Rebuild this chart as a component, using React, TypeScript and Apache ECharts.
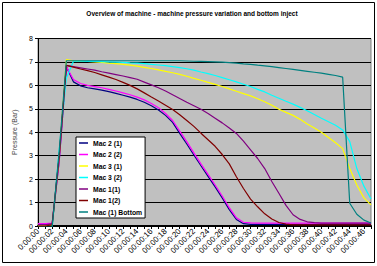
import React, { useEffect, useRef } from "react";
import * as echarts from "echarts";

const titleText = "Overview of machine - machine pressure variation and bottom inject";
const yAxisName = "Pressure (Bar)";

const seconds = Array.from({ length: 48 }, (_, i) => i);
const categories = seconds.map((s) => (s === 0 ? "0:00:00" : "00:00:" + String(s).padStart(2, "0")));

const seriesNames = ["Mac 2 (1)", "Mac 2 (2)", "Mac 3 (1)", "Mac 3 (2)", "Mac 1(1)", "Mac 1(2)", "Mac (1) Bottom"];
const seriesColors = ["#000080", "#FF00FF", "#FFFF00", "#00FFFF", "#800080", "#800000", "#008080"];

const mac21 = [0.05, 0.05, 0.08, 2.8, 6.8, 6.15, 5.98, 5.9, 5.85, 5.8, 5.73, 5.66, 5.58, 5.5, 5.4, 5.28, 5.13, 4.95, 4.72, 4.42, 3.95, 3.5, 3.03, 2.57, 2.12, 1.67, 1.2, 0.7, 0.28, 0.1, 0.07, 0.07, 0.07, 0.07, 0.07, 0.07, 0.07, 0.07, 0.07, 0.07, 0.07, 0.07, 0.07, 0.07, 0.07, 0.07, 0.07, 0.07];
const mac22 = [0.1, 0.1, 0.12, 2.8, 6.8, 6.25, 6.08, 6.0, 5.95, 5.9, 5.83, 5.76, 5.68, 5.6, 5.5, 5.38, 5.23, 5.05, 4.8, 4.5, 4.05, 3.6, 3.12, 2.65, 2.2, 1.75, 1.28, 0.78, 0.35, 0.16, 0.13, 0.12, 0.12, 0.12, 0.12, 0.12, 0.12, 0.12, 0.12, 0.12, 0.12, 0.12, 0.12, 0.12, 0.12, 0.12, 0.12, 0.12];
const mac31 = [0.02, 0.02, 0.05, 3.0, 7.1, 7.05, 7.03, 7.02, 7.0, 6.98, 6.95, 6.93, 6.9, 6.86, 6.82, 6.77, 6.72, 6.66, 6.6, 6.54, 6.47, 6.39, 6.3, 6.22, 6.13, 6.04, 5.95, 5.85, 5.75, 5.65, 5.55, 5.43, 5.3, 5.15, 4.98, 4.85, 4.72, 4.55, 4.35, 4.18, 4.0, 3.78, 3.55, 3.3, 2.45, 1.75, 1.2, 0.9];
const mac32 = [-0.1, -0.1, -0.08, 3.3, 6.3, 7.03, 7.03, 7.02, 7.02, 7.01, 7.0, 6.99, 6.98, 6.96, 6.95, 6.93, 6.9, 6.87, 6.84, 6.8, 6.76, 6.71, 6.65, 6.57, 6.5, 6.42, 6.33, 6.24, 6.15, 6.05, 5.95, 5.83, 5.72, 5.58, 5.45, 5.32, 5.2, 5.06, 4.92, 4.76, 4.6, 4.45, 4.3, 4.1, 3.6, 2.45, 1.7, 1.15];
const mac11 = [0.05, 0.05, 0.1, 3.0, 6.85, 6.8, 6.75, 6.7, 6.65, 6.58, 6.52, 6.46, 6.4, 6.33, 6.26, 6.14, 6.02, 5.9, 5.76, 5.6, 5.44, 5.28, 5.13, 4.98, 4.8, 4.6, 4.4, 4.18, 3.95, 3.62, 3.25, 2.88, 2.45, 1.9, 1.4, 0.88, 0.48, 0.28, 0.18, 0.14, 0.12, 0.12, 0.12, 0.12, 0.12, 0.12, 0.12, 0.12];
const mac12 = [0.0, 0.0, 0.05, 3.0, 6.85, 6.78, 6.7, 6.63, 6.55, 6.45, 6.35, 6.25, 6.13, 6.0, 5.85, 5.68, 5.5, 5.33, 5.15, 4.97, 4.75, 4.5, 4.25, 3.96, 3.68, 3.4, 3.05, 2.65, 2.1, 1.6, 1.15, 0.82, 0.52, 0.3, 0.15, 0.08, 0.05, 0.05, 0.05, 0.05, 0.05, 0.05, 0.05, 0.05, 0.05, 0.05, 0.05, 0.05];
const mac1Bottom = [-0.05, -0.05, -0.03, 3.2, 7.05, 7.05, 7.05, 7.05, 7.05, 7.05, 7.05, 7.05, 7.05, 7.05, 7.05, 7.05, 7.05, 7.05, 7.05, 7.05, 7.05, 7.04, 7.03, 7.02, 7.01, 7.0, 6.99, 6.97, 6.95, 6.92, 6.9, 6.86, 6.83, 6.8, 6.76, 6.72, 6.68, 6.64, 6.6, 6.56, 6.52, 6.47, 6.42, 6.35, 0.97, 0.5, 0.25, 0.13];

const seriesData = [mac21, mac22, mac31, mac32, mac11, mac12, mac1Bottom];

const FONT = "'Liberation Sans', Arial, sans-serif";

export default function App() {
  const ref = useRef<HTMLDivElement>(null);
  useEffect(() => {
    document.body.style.margin = "0";
    const chart = echarts.init(ref.current!, null, { renderer: "svg" });
    chart.setOption({
      animation: false,
      backgroundColor: "#ffffff",
      textStyle: { fontFamily: FONT },
      graphic: [
        {
          type: "rect",
          shape: { x: 2.5, y: 2.5, width: 372, height: 260 },
          style: { fill: "none", stroke: "#000", lineWidth: 1 },
          silent: true,
        },
        {
          type: "text",
          x: 192,
          y: 10,
          style: {
            text: titleText,
            fontSize: 6.5,
            fontWeight: "bold",
            fontFamily: FONT,
            fill: "#000",
            align: "center",
          },
        },
      ],
      grid: {
        left: 38,
        right: 6,
        top: 38.5,
        bottom: 40,
        show: true,
        backgroundColor: "#C0C0C0",
        borderColor: "#808080",
        borderWidth: 1,
      },
      legend: {
        orient: "vertical",
        left: 76,
        top: 137,
        backgroundColor: "#ffffff",
        borderColor: "#000",
        borderWidth: 1,
        borderRadius: 0,
        padding: [2, 3, 2, 3],
        itemGap: 3.5,
        itemWidth: 9,
        itemHeight: 1.5,
        icon: "rect",
        data: seriesNames,
        textStyle: { fontSize: 6.8, fontWeight: "bold", color: "#000", lineHeight: 8, fontFamily: FONT },
      },
      xAxis: {
        type: "category",
        data: categories,
        boundaryGap: false,
        axisLine: { lineStyle: { color: "#000", width: 2 } },
        axisTick: { show: true, interval: 0, length: 3, lineStyle: { color: "#000" } },
        axisLabel: { interval: 1, rotate: 45, fontSize: 8, color: "#000", margin: 4, fontFamily: FONT },
        splitLine: { show: false },
      },
      yAxis: {
        type: "value",
        min: 0,
        max: 8,
        interval: 1,
        name: yAxisName,
        nameLocation: "middle",
        nameGap: 19,
        nameTextStyle: { fontSize: 7, color: "#444", fontFamily: FONT },
        axisLine: { show: true, lineStyle: { color: "#000" } },
        axisTick: { show: true, length: 3, lineStyle: { color: "#000" } },
        axisLabel: { fontSize: 7, color: "#000", margin: 5, fontFamily: FONT },
        splitLine: { show: true, lineStyle: { color: "#000", width: 1 } },
      },
      series: seriesNames.map((name, i) => ({
        name,
        type: "line",
        data: seriesData[i],
        symbol: "none",
        showSymbol: false,
        color: seriesColors[i],
        lineStyle: { width: 1.2, color: seriesColors[i] },
      })),
    });
    return () => chart.dispose();
  }, []);
  return <div ref={ref} style={{ width: 377, height: 266 }} />;
}
